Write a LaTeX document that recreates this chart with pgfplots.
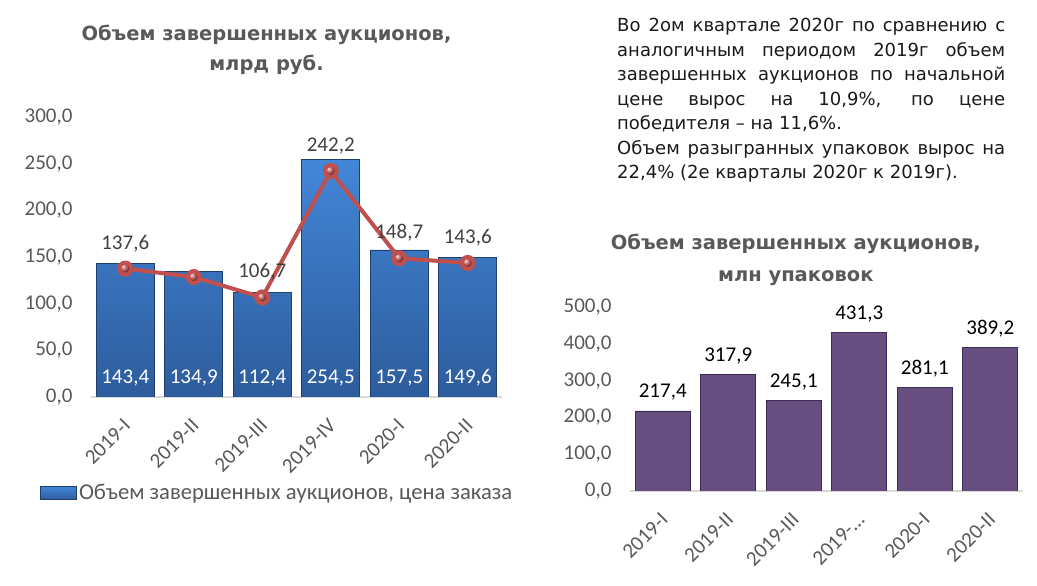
\documentclass[border=0pt]{standalone}
\usepackage{fontspec}
\setmainfont{Carlito}
\newfontfamily\titlefont{DejaVu Sans}
\newfontfamily\parafont{DejaVu Sans}
\usepackage{pgfplots}
\pgfplotsset{compat=1.18}
\usetikzlibrary{shadings}
\definecolor{tickgray}{HTML}{595959}
\definecolor{blueTop}{HTML}{4386D8}
\definecolor{blueBot}{HTML}{2D5C9C}
\definecolor{blueEdge}{HTML}{1F3F6E}
\definecolor{lineRed}{HTML}{C0504D}
\definecolor{purp}{HTML}{664F80}
\definecolor{purpEdge}{HTML}{3D2D52}
\definecolor{axgray}{HTML}{D9D9D9}
\definecolor{lblgray}{HTML}{404040}
\definecolor{paratext}{HTML}{1A1A1A}
\newcommand\fs{\fontsize{21bp}{25bp}\selectfont}
\pgfplotsset{
  basestyle/.style={
    scale only axis,
    xmin=-0.5, xmax=5.5, ymin=0,
    axis x line*=bottom, axis y line*=left,
    y axis line style={draw=none},
    x axis line style={draw=axgray, line width=2bp},
    major tick length=0pt,
    xtick={0,...,5},
    ticklabel style={font=\fs, text=tickgray},
    yticklabel style={xshift=-15bp},
    xticklabel style={xshift=4bp, yshift=-23bp, rotate=45, anchor=east},
    /pgf/number format/.cd, fixed, fixed zerofill, precision=1, use comma, 1000 sep={}, assume math mode=true,
    /pgfplots/.cd,
  }
}
\begin{document}
\begin{tikzpicture}[x=1bp,y=1bp]
\useasboundingbox (0bp,0bp) rectangle (1037bp,586bp);

% titles
\begin{scope}[every node/.style={anchor=base, font=\titlefont\bfseries\fontsize{19.5bp}{24bp}\selectfont, text=tickgray, inner sep=0}]
\node at (266.5bp,545bp) {Объем завершенных аукционов,};
\node at (266.5bp,515bp) {млрд руб.};
\node at (795.8bp,336bp) {Объем завершенных аукционов,};
\node at (795.8bp,304.3bp) {млн упаковок};
\end{scope}

% paragraph
\begin{scope}[every node/.style={anchor=base west, inner sep=0, font=\parafont\fontsize{18bp}{24.5bp}\selectfont, text=paratext}]
\node at (617bp,554.3bp) {\makebox[388bp][s]{Во 2ом квартале 2020г по сравнению с}};
\node at (617bp,529.8bp) {\makebox[388bp][s]{аналогичным периодом 2019г объем}};
\node at (617bp,505.3bp) {\makebox[388bp][s]{завершенных аукционов по начальной}};
\node at (617bp,480.8bp) {\makebox[388bp][s]{цене вырос на 10,9\%, по цене}};
\node at (617bp,456.3bp) {\makebox[388bp][l]{победителя – на 11,6\%.}};
\node at (617bp,431.8bp) {\makebox[388bp][s]{Объем разыгранных упаковок вырос на}};
\node at (617bp,407.3bp) {\makebox[388bp][l]{22,4\% (2е кварталы 2020г к 2019г).}};
\end{scope}

% left chart
\begin{axis}[basestyle,
  at={(91bp,189bp)}, anchor=south west,
  width=411bp, height=280bp, ymax=300,
  ytick={0,50,...,300},
  xticklabels={2019-I,2019-II,2019-III,2019-IV,2020-I,2020-II},
  legend style={at={(axis description cs:-0.124,-0.343)}, anchor=west, draw=none, fill=none,
    font=\fontsize{22.6bp}{26bp}\selectfont, text=tickgray, inner sep=0pt, nodes={inner sep=2bp}},
  legend cell align=left,
]
\addplot[ybar, bar width=58bp, top color=blueTop, bottom color=blueBot, draw=blueEdge, line width=0.8bp,
  visualization depends on={y \as \rawy},
  nodes near coords,
  nodes near coords style={font=\fs, text=white, anchor=base, yshift={13.5bp-\rawy*0.93333bp}},
  legend image code/.code={\path[top color=blueTop, bottom color=blueBot, draw=blueEdge] (0bp,-6.5bp) rectangle (36bp,6.5bp);}
] coordinates {(0,143.4) (1,134.9) (2,112.4) (3,254.5) (4,157.5) (5,149.6)};
\addlegendentry{Объем завершенных аукционов, цена заказа}
\addplot[forget plot, sharp plot, draw=lineRed, line width=4bp,
  mark=ball, mark size=6bp, mark options={ball color=lineRed},
  point meta=explicit symbolic, nodes near coords,
  nodes near coords style={font=\fs, text=lblgray, anchor=base, yshift=19.5bp}
] coordinates {(0,137.6) [137,6] (1,128.5) [] (2,106.7) [106,7] (3,242.2) [242,2] (4,148.7) [148,7] (5,143.6) [143,6]};
\end{axis}

% right chart
\begin{axis}[basestyle,
  at={(630bp,95bp)}, anchor=south west,
  width=393bp, height=184bp, ymax=500,
  ytick={0,100,...,500},
  xticklabels={2019-I,2019-II,2019-III,2019-…,2020-I,2020-II},
]
\addplot[ybar, bar width=55bp, fill=purp, draw=purpEdge, line width=0.8bp,
  nodes near coords,
  nodes near coords style={font=\fs, text=black, anchor=base, yshift=13bp}
] coordinates {(0,217.4) (1,317.9) (2,245.1) (3,431.3) (4,281.1) (5,389.2)};
\end{axis}
\end{tikzpicture}
\end{document}
